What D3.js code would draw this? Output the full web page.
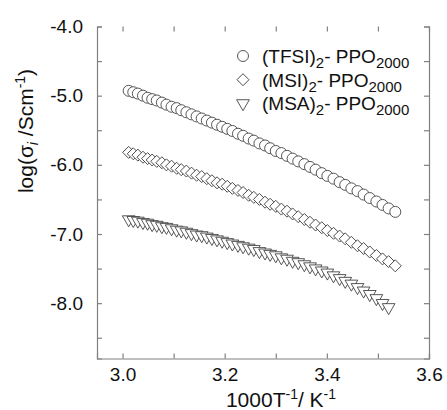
<!DOCTYPE html>
<html>
<head>
<meta charset="utf-8">
<script src="https://cdn.jsdelivr.net/npm/d3@7"></script>
<style>
  body { margin: 0; background: #fff; }
  text { font-family: "Liberation Sans", Arial, sans-serif; fill: #111; }
  .axis path, .axis line { stroke: #808080; stroke-width: 1.2; }
</style>
</head>
<body>
<div id="chart"></div>
<script>
/* 1000/T values (x), shared by the three series */
var invT = [3.012, 3.021, 3.030, 3.040, 3.049, 3.058, 3.067, 3.077, 3.086, 3.096,
            3.106, 3.115, 3.125, 3.135, 3.145, 3.155, 3.165, 3.175, 3.185, 3.195,
            3.205, 3.215, 3.226, 3.236, 3.247, 3.257, 3.268, 3.279, 3.289, 3.300,
            3.311, 3.322, 3.333, 3.344, 3.356, 3.367, 3.378, 3.390, 3.401, 3.413,
            3.425, 3.436, 3.448, 3.460, 3.472, 3.484, 3.497, 3.509, 3.521, 3.534];

var tfsi = [-4.93, -4.95, -4.97, -5.00, -5.03, -5.05, -5.07, -5.10, -5.13, -5.16,
            -5.18, -5.21, -5.24, -5.27, -5.30, -5.33, -5.36, -5.39, -5.42, -5.45,
            -5.48, -5.51, -5.55, -5.58, -5.62, -5.65, -5.69, -5.72, -5.76, -5.80,
            -5.83, -5.87, -5.91, -5.95, -5.99, -6.03, -6.07, -6.12, -6.16, -6.20,
            -6.25, -6.29, -6.34, -6.38, -6.43, -6.48, -6.53, -6.58, -6.63, -6.68];

var msi = [-5.82, -5.84, -5.86, -5.89, -5.91, -5.93, -5.95, -5.97, -6.00, -6.02,
           -6.05, -6.07, -6.09, -6.12, -6.15, -6.17, -6.20, -6.23, -6.26, -6.28,
           -6.31, -6.34, -6.37, -6.40, -6.44, -6.47, -6.50, -6.54, -6.57, -6.60,
           -6.64, -6.67, -6.71, -6.75, -6.79, -6.83, -6.87, -6.91, -6.95, -6.99,
           -7.03, -7.07, -7.12, -7.17, -7.21, -7.26, -7.31, -7.36, -7.40, -7.46];

var msa = [-6.79, -6.80, -6.81, -6.83, -6.84, -6.86, -6.87, -6.89, -6.90, -6.92,
           -6.94, -6.95, -6.97, -6.99, -7.01, -7.02, -7.04, -7.06, -7.08, -7.10,
           -7.12, -7.14, -7.16, -7.18, -7.20, -7.22, -7.25, -7.27, -7.29, -7.31,
           -7.34, -7.36, -7.39, -7.41, -7.44, -7.47, -7.50, -7.53, -7.56, -7.60,
           -7.64, -7.68, -7.72, -7.77, -7.82, -7.87, -7.93, -8.00, -8.06];

var seriesNames = ["TFSI", "MSI", "MSA"];
var xTicks = [3.0, 3.2, 3.4, 3.6];
var xTickLabels = ["3.0", "3.2", "3.4", "3.6"];
var xMinor = [3.1, 3.3, 3.5];
var yTicks = [-4, -5, -6, -7, -8];
var yTickLabels = ["-4.0", "-5.0", "-6.0", "-7.0", "-8.0"];
var yMinor = [-4.5, -5.5, -6.5, -7.5, -8.5];

var svg = d3.select("#chart").append("svg")
    .attr("width", 447)
    .attr("height", 410);

var plotLeft = 97, plotRight = 429, plotTop = 26.5, plotBottom = 358.5;

var x = d3.scaleLinear().domain([2.95, 3.6]).range([plotLeft, plotRight]);
var y = d3.scaleLinear().domain([-8.8, -4.0]).range([plotBottom, plotTop]);

// axes, ticks pointing inward
svg.append("g")
    .attr("class", "axis")
    .attr("transform", "translate(0," + plotBottom + ")")
    .call(d3.axisBottom(x).tickValues(xTicks).tickSize(-5).tickPadding(9)
        .tickFormat(function(d, i) { return xTickLabels[i]; }))
    .call(function(g) { g.selectAll("text").style("font-size", "19px").attr("fill", "#111"); });

svg.append("g")
    .attr("class", "axis")
    .attr("transform", "translate(0," + plotBottom + ")")
    .call(d3.axisBottom(x).tickValues(xMinor).tickSize(-5).tickFormat(""))
    .call(function(g) { g.select(".domain").remove(); });

svg.append("g")
    .attr("class", "axis")
    .attr("transform", "translate(0," + plotTop + ")")
    .call(d3.axisTop(x).tickValues(xTicks.concat(xMinor)).tickSize(-5).tickFormat(""))
    .call(function(g) { g.select(".domain").remove(); });

svg.append("g")
    .attr("class", "axis")
    .attr("transform", "translate(" + plotLeft + ",0)")
    .call(d3.axisLeft(y).tickValues(yTicks).tickSize(-5).tickPadding(14)
        .tickFormat(function(d, i) { return yTickLabels[i]; }))
    .call(function(g) { g.selectAll("text").style("font-size", "19px").attr("fill", "#111"); });

svg.append("g")
    .attr("class", "axis")
    .attr("transform", "translate(" + plotLeft + ",0)")
    .call(d3.axisLeft(y).tickValues(yMinor).tickSize(-5).tickFormat(""))
    .call(function(g) { g.select(".domain").remove(); });

svg.append("g")
    .attr("class", "axis")
    .attr("transform", "translate(" + plotRight + ",0)")
    .call(d3.axisRight(y).tickValues(yTicks.concat(yMinor)).tickSize(-5).tickFormat(""));

// markers
var symbols = {
    TFSI: { path: d3.symbol().type(d3.symbolCircle).size(95)(), rot: 0 },
    MSI: { path: d3.symbol().type(d3.symbolSquare).size(72)(), rot: 45 },
    MSA: { path: d3.symbol().type(d3.symbolTriangle).size(70)(), rot: 180 }
};
var values = { TFSI: tfsi, MSI: msi, MSA: msa };

seriesNames.forEach(function(name) {
    var pts = values[name].map(function(v, i) { return { x: invT[i], y: v }; });
    svg.append("g")
        .attr("class", "series")
        .selectAll("path")
        .data(pts)
        .enter().append("path")
        .attr("d", symbols[name].path)
        .attr("transform", function(d) {
            return "translate(" + x(d.x) + "," + y(d.y) + ") rotate(" + symbols[name].rot + ")";
        })
        .attr("fill", "#fff")
        .attr("stroke", "#444")
        .attr("stroke-width", 0.9);
});

// legend
var legendLabels = ["(TFSI)", "(MSI)", "(MSA)"];
var legend = svg.selectAll(".legend")
    .data(seriesNames)
    .enter().append("g")
    .attr("class", "legend")
    .attr("transform", function(d, i) { return "translate(243," + (56 + i * 23.7) + ")"; });

legend.append("path")
    .attr("d", function(d) { return symbols[d].path; })
    .attr("transform", function(d) { return "rotate(" + symbols[d].rot + ")"; })
    .attr("fill", "#fff")
    .attr("stroke", "#444")
    .attr("stroke-width", 0.9);

var lt = legend.append("text")
    .attr("x", 19)
    .attr("y", 7)
    .style("font-size", "19px");
lt.append("tspan").text(function(d, i) { return legendLabels[i]; });
lt.append("tspan").attr("dy", 5).style("font-size", "15px").text("2");
lt.append("tspan").attr("dy", -5).text("- PPO");
lt.append("tspan").attr("dy", 5).style("font-size", "15px").text("2000");

// axis titles
var xt = svg.append("text")
    .attr("x", 281)
    .attr("y", 407)
    .attr("text-anchor", "middle")
    .style("font-size", "21px");
xt.append("tspan").text("1000T");
xt.append("tspan").attr("dy", -8).style("font-size", "14px").text("-1");
xt.append("tspan").attr("dy", 8).text("/ K");
xt.append("tspan").attr("dy", -8).style("font-size", "14px").text("-1");

var yt = svg.append("text")
    .attr("transform", "translate(33,131) rotate(-90)")
    .attr("text-anchor", "middle")
    .style("font-size", "21px");
yt.append("tspan").text("log(\u03c3");
yt.append("tspan").attr("dy", 5).style("font-size", "14px").style("font-style", "italic").text("i");
yt.append("tspan").attr("dy", -5).text(" /Scm");
yt.append("tspan").attr("dy", -8).style("font-size", "14px").text("-1");
yt.append("tspan").attr("dy", 8).text(")");
</script>
</body>
</html>
